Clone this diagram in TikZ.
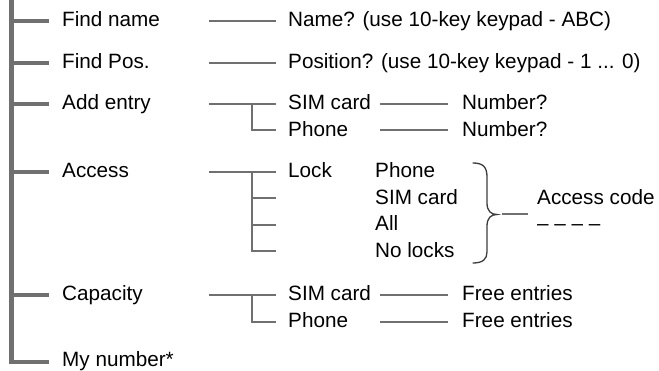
\documentclass[tikz,border=0pt]{standalone}
\usepackage{fontspec}
\setmainfont{Liberation Sans}
\definecolor{treegray}{HTML}{707070}
\definecolor{bracegray}{HTML}{3C3C3C}
\begin{document}
\begin{tikzpicture}[x=1pt,y=-1pt,
  trunk/.style={draw=treegray,line width=4.6pt},
  twig/.style={draw=treegray,line width=2pt},
  lbl/.style={anchor=base west,inner sep=0pt,font=\fontsize{20.7}{24}\selectfont},
  bracestyle/.style={draw=bracegray,line width=1.3pt,line cap=round}]
\useasboundingbox (0,0) rectangle (659,371);

% level 1 labels
\node[lbl] (fn) at (62,27) {Find name};
\node[lbl] (fp) at (62,69) {Find Pos.};
\node[lbl] (ae) at (62,110) {Add entry};
\node[lbl] (ac) at (62,178) {Access};
\node[lbl] (ca) at (62,301) {Capacity};
\node[lbl] (mn) at (62,366.3) {My number*};

% level 2 labels
\node[lbl] (nameq) at (288,27) {Name? (use 10-key keypad - ABC)};
\node[lbl] (posq) at (288,69) {Position? (use 10-key keypad - 1 ... 0)};
\node[lbl] (aesim) at (288,110) {SIM card};
\node[lbl] (aeph) at (288,136.5) {Phone};
\node[lbl] (lock) at (288,178) {Lock};
\node[lbl] (casim) at (288,301) {SIM card};
\node[lbl] (caph) at (288,328) {Phone};

% access list
\node[lbl] (lph) at (375,178) {Phone};
\node[lbl] (lsim) at (375,204.5) {SIM card};
\node[lbl] (lall) at (375,231) {All};
\node[lbl] (lno) at (375,257.5) {No locks};

% level 3 labels
\node[lbl] (num1) at (462,110) {Number?};
\node[lbl] (num2) at (462,136.5) {Number?};
\node[lbl] (free1) at (462,301) {Free entries};
\node[lbl] (free2) at (462,328) {Free entries};
\node[lbl] (code) at (537,204.5) {Access code};
\node[lbl] (dash) at (537,231) {– – – –};

% trunk and branch ends
\coordinate (top) at (11.5,-3);
\coordinate (b1) at (49,21);
\coordinate (b2) at (49,63);
\coordinate (b3) at (49,104);
\coordinate (b4) at (49,172);
\coordinate (b5) at (49,295);
\coordinate (b6) at (49,362);
\draw[trunk,line join=miter] (top) |- (b6);
\foreach \b in {b1,b2,b3,b4,b5}{\draw[trunk] (top |- \b) -- (\b);}

% level 2 connectors
\coordinate (s1) at (209,21);  \coordinate (e1) at (276,21);
\coordinate (s2) at (209,63);  \coordinate (e2) at (276,63);
\coordinate (s3) at (209,104); \coordinate (e3) at (276,104);
\coordinate (s4) at (209,172); \coordinate (e4) at (276,172);
\coordinate (s5) at (209,295); \coordinate (e5) at (276,295);
\foreach \i in {1,...,5}{\draw[twig] (s\i) -- (e\i);}

% sub-branches
\coordinate (j3) at (252,104); \coordinate (f3) at (276,130.5);
\draw[twig,line join=miter] (j3) |- (f3);
\coordinate (j4) at (252,172);
\coordinate (g1) at (276,198.5);
\coordinate (g2) at (276,225);
\coordinate (g3) at (276,251.5);
\draw[twig,line join=miter] (j4) |- (g3);
\draw[twig] (j4 |- g1) -- (g1);
\draw[twig] (j4 |- g2) -- (g2);
\coordinate (j5) at (252,295); \coordinate (f5) at (276,322);
\draw[twig,line join=miter] (j5) |- (f5);

% level 3 connectors
\coordinate (m1) at (380,104);   \coordinate (n1) at (448,104);
\coordinate (m2) at (380,130.5); \coordinate (n2) at (448,130.5);
\coordinate (m3) at (380,295);   \coordinate (n3) at (448,295);
\coordinate (m4) at (380,322);   \coordinate (n4) at (448,322);
\foreach \i in {1,...,4}{\draw[twig] (m\i) -- (n\i);}

% brace
\draw[bracestyle] (473,163) .. controls (483,163) and (487,167) .. (487,177)
  -- (487,203) .. controls (487,211) and (491,214.5) .. (497,214.5)
  .. controls (491,214.5) and (487,218) .. (487,226)
  -- (487,252) .. controls (487,259) and (483,263) .. (473,263);
\coordinate (br1) at (502,214.5);
\coordinate (br2) at (528,214.5);
\draw[twig] (br1) -- (br2);
\end{tikzpicture}
\end{document}
